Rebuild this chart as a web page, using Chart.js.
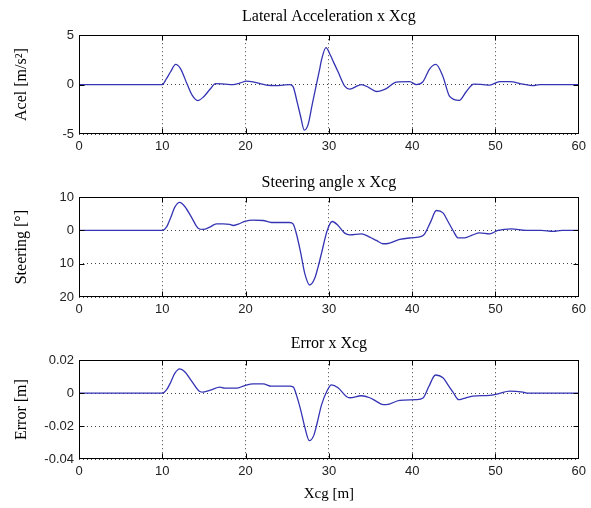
<!DOCTYPE html>
<html>
<head>
<meta charset="utf-8">
<script src="https://cdn.jsdelivr.net/npm/chart.js@4.4.1/dist/chart.umd.min.js"></script>
<style>
  body { margin: 0; background: #fff; }
  canvas { position: absolute; left: 0; }
</style>
</head>
<body>
<canvas id="accelChart" width="591" height="159" style="top:0"></canvas>
<canvas id="steerChart" width="591" height="162" style="top:160px"></canvas>
<canvas id="errorChart" width="591" height="183" style="top:325px"></canvas>
<script>
// longitudinal position of the CG [m], shared tick marks
const xTicks = [0, 10, 20, 30, 40, 50, 60];

// lateral acceleration [m/s2]
const accelX = [0, 10, 10.5, 11, 11.6, 12.2, 13, 13.6, 14.25, 15, 15.7, 16.4, 17.5, 18.5, 19.3, 20.1, 21, 22, 22.5, 23.7, 24.5, 25.3, 25.7, 26.2, 26.6, 27.05, 27.5, 28, 28.5, 28.9, 29.1, 29.65, 30.2, 30.6, 31.1, 31.9, 32.5, 33.5, 33.9, 34.8, 35.7, 36.9, 38.1, 39.7, 40.5, 41.3, 42.1, 42.85, 43.7, 44.5, 45.65, 46.5, 47.4, 48.5, 49.3, 50.5, 51.7, 53.3, 54.5, 55.3, 60];
const accelY = [0, 0, 0.6, 1.3, 2.05, 1.6, 0.0, -1.1, -1.62, -1.2, -0.5, 0.1, 0.05, 0.0, 0.15, 0.35, 0.25, 0.05, -0.05, -0.1, -0.05, 0.0, -0.2, -1.8, -3.2, -4.6, -4.05, -2.0, 0.0, 1.6, 2.45, 3.75, 2.95, 2.2, 1.3, -0.15, -0.45, -0.1, 0.0, -0.3, -0.7, -0.4, 0.25, 0.3, 0.0, 0.3, 1.6, 2.05, 0.8, -1.2, -1.6, -0.7, 0.05, 0.0, -0.05, 0.3, 0.3, 0.05, -0.1, 0, 0];
const accelTicks = [-5, 0, 5];

// steering angle [deg]
const steerX = [0, 10, 10.5, 11, 11.5, 12.1, 12.7, 13.5, 14.3, 14.9, 15.7, 16.5, 17.3, 18.1, 18.5, 19.2, 19.9, 20.9, 22.1, 23.1, 24.2, 25.3, 25.7, 26.1, 26.6, 27.1, 27.7, 28.3, 28.7, 29.1, 29.8, 30.4, 31.1, 31.9, 32.5, 33.9, 34.9, 35.7, 36.5, 36.9, 38.5, 39.9, 41.1, 41.5, 42.2, 42.9, 43.7, 44.3, 44.9, 45.5, 46.3, 47.2, 48.1, 49.3, 50.3, 51.9, 53.7, 55.5, 56.9, 58, 60];
const steerY = [0, 0, 1.0, 3.8, 7.0, 8.45, 7.2, 4.0, 0.7, 0.3, 1.0, 2.0, 2.0, 1.8, 1.5, 2.0, 2.7, 3.1, 3.0, 2.4, 2.4, 2.4, 2.0, -1.0, -6.5, -12.9, -16.4, -14.4, -11, -7.0, 0, 2.7, 1.5, -0.8, -1.3, -1.0, -2.0, -3.0, -4.0, -4.0, -2.7, -2.2, -1.8, -1.0, 2.5, 6.0, 5.3, 2.7, 0, -2.2, -2.2, -1.4, -0.7, -1.0, 0, 0.5, 0, 0, -0.3, 0, 0];
const steerTicks = [-20, -10, 0, 10];

// lateral tracking error [m]
const errorX = [0, 10, 10.5, 11, 11.5, 12.1, 12.7, 13.5, 14.5, 14.9, 15.9, 16.9, 17.5, 18.9, 19.9, 20.9, 22.1, 23.1, 25.3, 25.7, 26.3, 26.7, 27.1, 27.65, 28.2, 28.6, 29.1, 29.8, 30.3, 31.1, 32.1, 32.5, 33.9, 34.9, 35.7, 36.5, 36.9, 38.5, 40.5, 41.3, 42.0, 42.8, 43.7, 44.3, 44.9, 45.6, 46.1, 47.3, 49.3, 50.3, 51.7, 53.3, 53.9, 60];
const errorY = [0, 0, 0.002, 0.0065, 0.012, 0.0147, 0.013, 0.0075, 0.001, 0.0006, 0.002, 0.0036, 0.003, 0.003, 0.0046, 0.0056, 0.0056, 0.0042, 0.0042, 0.0038, -0.0044, -0.012, -0.0205, -0.0289, -0.0255, -0.018, -0.0074, 0.0016, 0.005, 0.0033, -0.002, -0.0028, -0.0016, -0.0028, -0.005, -0.007, -0.007, -0.0044, -0.004, -0.003, 0.004, 0.011, 0.0093, 0.005, 0.0006, -0.004, -0.0034, -0.0018, -0.0014, -0.0004, 0.0012, 0.0006, 0, 0];
const errorTicks = [-0.04, -0.02, 0, 0.02];

const lineColor = "#3434b4";
const gridColor = "#444";
const serif = { family: "Liberation Serif", size: 15 };
const sans = { family: "Liberation Sans", size: 13 };

// axes box with inward tick marks on all four sides
const boxPlugin = {
    id: "box",
    afterDraw(chart) {
        const { ctx, chartArea: a, scales } = chart;
        const l = Math.round(a.left) + 0.5, r = Math.round(a.right) - 0.5;
        const t = Math.round(a.top) + 0.5, b = Math.round(a.bottom) - 0.5;
        ctx.save();
        ctx.strokeStyle = "#000";
        ctx.lineWidth = 1;
        ctx.strokeRect(l, t, r - l, b - t);
        ctx.beginPath();
        scales.x.ticks.forEach(tk => {
            const px = Math.round(scales.x.getPixelForValue(tk.value)) + 0.5;
            if (px <= l + 1 || px >= r - 1) return;
            ctx.moveTo(px, b); ctx.lineTo(px, b - 5);
            ctx.moveTo(px, t); ctx.lineTo(px, t + 5);
        });
        scales.y.ticks.forEach(tk => {
            const py = Math.round(scales.y.getPixelForValue(tk.value)) + 0.5;
            if (py <= t + 1 || py >= b - 1) return;
            ctx.moveTo(l, py); ctx.lineTo(l + 5, py);
            ctx.moveTo(r, py); ctx.lineTo(r - 5, py);
        });
        ctx.stroke();
        ctx.restore();
    }
};

function panel(id, cfg) {
    const points = cfg.xs.map((x, i) => ({ x: x, y: cfg.ys[i] }));
    return new Chart(document.getElementById(id), {
        type: "scatter",
        data: {
            datasets: [{
                data: points,
                showLine: true,
                borderColor: lineColor,
                borderWidth: 1.3,
                pointRadius: 0,
                cubicInterpolationMode: "monotone"
            }]
        },
        options: {
            responsive: false,
            animation: false,
            devicePixelRatio: 1,
            layout: { padding: { left: 0, right: 12, top: 0, bottom: 0 } },
            plugins: {
                legend: { display: false },
                tooltip: { enabled: false },
                title: {
                    display: true,
                    fullSize: false,
                    text: cfg.title,
                    color: "#000",
                    font: { family: "Liberation Serif", size: 16, weight: "normal" },
                    padding: cfg.titlePad
                }
            },
            scales: {
                x: {
                    type: "linear",
                    min: 0,
                    max: 60,
                    afterBuildTicks: s => { s.ticks = xTicks.map(v => ({ value: v })); },
                    afterFit: s => { s.height = cfg.xHeight; },
                    ticks: { font: sans, color: "#222", padding: 5, maxRotation: 0 },
                    grid: { color: gridColor, drawTicks: false },
                    border: { display: false, dash: [1, 3] },
                    title: cfg.xTitle
                        ? { display: true, text: cfg.xTitle, color: "#000", font: serif, padding: { top: 0, bottom: 5 } }
                        : { display: false }
                },
                y: {
                    type: "linear",
                    min: cfg.yTicks[0],
                    max: cfg.yTicks[cfg.yTicks.length - 1],
                    afterBuildTicks: s => { s.ticks = cfg.yTicks.map(v => ({ value: v })); },
                    afterFit: s => { s.width = 79; },
                    ticks: { font: sans, color: "#222", padding: 5, callback: cfg.fmt },
                    grid: { color: gridColor, drawTicks: false },
                    border: { display: false, dash: [1, 3] },
                    title: { display: true, text: cfg.yTitle, color: "#000", font: { family: "Liberation Serif", size: 16 }, padding: { top: 12, bottom: 0 } }
                }
            }
        },
        plugins: [boxPlugin]
    });
}

panel("accelChart", {
    xs: accelX, ys: accelY, yTicks: accelTicks,
    title: "Lateral Acceleration x Xcg", yTitle: "Acel [m/s²]",
    titlePad: { top: 7, bottom: 9 }, xHeight: 25,
    fmt: v => String(v)
});

// the steering axis prints magnitudes only
panel("steerChart", {
    xs: steerX, ys: steerY, yTicks: steerTicks,
    title: "Steering angle x Xcg", yTitle: "Steering [°]",
    titlePad: { top: 13, bottom: 5 }, xHeight: 25,
    fmt: v => String(Math.abs(v))
});

panel("errorChart", {
    xs: errorX, ys: errorY, yTicks: errorTicks,
    title: "Error x Xcg", yTitle: "Error [m]", xTitle: "Xcg [m]",
    titlePad: { top: 9, bottom: 7 }, xHeight: 49,
    fmt: v => String(v)
});
</script>
</body>
</html>
